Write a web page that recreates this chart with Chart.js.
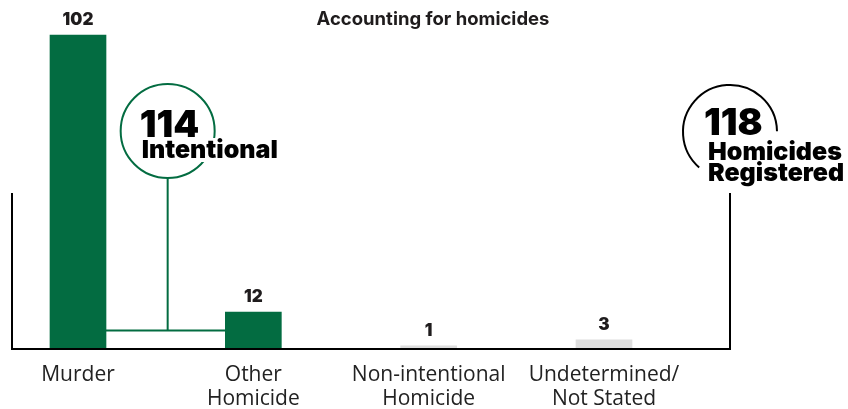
<!DOCTYPE html>
<html>
<head>
<meta charset="utf-8">
<script src="https://cdn.jsdelivr.net/npm/chart.js@4.4.0/dist/chart.umd.min.js"></script>
<style>
  html, body { margin: 0; padding: 0; background: #fff; }
  #wrap { width: 848px; height: 409px; position: relative; }
</style>
</head>
<body>
<div id="wrap"><canvas id="chartHomicides"></canvas></div>
<script>
// — data —
const categories  = [['Murder'], ['Other', 'Homicide'], ['Non-intentional', 'Homicide'], ['Undetermined/', 'Not Stated']];
const counts      = [102, 12, 1, 3];
const intentional = [true, true, false, false];
const titleText   = 'Accounting for homicides';

const intentionalTotal = counts.reduce((s, v, i) => s + (intentional[i] ? v : 0), 0);  // 114
const registeredTotal  = counts.reduce((s, v) => s + v, 0);                             // 118

// — colours / fonts —
const GREEN   = '#036c41';
const GRAY    = '#dedede';
const INK     = '#1f1c1d';
const HEAVY   = 'Inter, "Open Sans", sans-serif';

// — annotations drawn on top of the bars —
const decorPlugin = {
  id: 'decor',
  afterDatasetsDraw(chart) {
    const ctx  = chart.ctx;
    const area = chart.chartArea;
    const bars = chart.getDatasetMeta(0).data;

    ctx.save();

    // title
    ctx.fillStyle = INK;
    ctx.font = `700 18.5px ${HEAVY}`;
    ctx.textAlign = 'center';
    ctx.textBaseline = 'alphabetic';
    ctx.fillText(titleText, 433, 25);

    // value labels
    ctx.font = `900 17px ${HEAVY}`;
    bars.forEach((b, i) => ctx.fillText(String(counts[i]), b.x, b.y - 10));

    // frame round the bars
    const frameL = 12, frameR = 730, frameTop = 193;
    ctx.strokeStyle = '#000';
    ctx.lineWidth = 2;
    ctx.beginPath();
    ctx.moveTo(frameL, frameTop);
    ctx.lineTo(frameL, area.bottom);
    ctx.lineTo(frameR, area.bottom);
    ctx.lineTo(frameR, frameTop);
    ctx.stroke();

    // bracket joining the intentional bars (at half height of the shorter one)
    const b0 = bars[0], b1 = bars[1];
    const x0 = b0.x + b0.width / 2;
    const x1 = b1.x - b1.width / 2;
    const yBr = (b1.y + b1.base) / 2;
    const cx = (x0 + x1) / 2 + 2, cy = 131, r = 47;
    ctx.strokeStyle = GREEN;
    ctx.beginPath();
    ctx.moveTo(x0, yBr);
    ctx.lineTo(x1, yBr);
    ctx.moveTo(cx, cy + r);
    ctx.lineTo(cx, yBr);
    ctx.stroke();
    ctx.beginPath();
    ctx.arc(cx, cy, r, 0, Math.PI * 2);
    ctx.stroke();

    ctx.textAlign = 'left';
    ctx.fillStyle = '#000';
    ctx.font = `900 37px ${HEAVY}`;
    ctx.fillText(String(intentionalTotal), cx - 28, cy + 6);
    ctx.font = `900 25px ${HEAVY}`;
    const w = ctx.measureText('Intentional').width;
    ctx.fillStyle = '#fff';
    ctx.fillRect(cx - 28, cy + 7, w + 6, 24);
    ctx.fillStyle = '#000';
    ctx.fillText('Intentional', cx - 26, cy + 27);

    // circle for the registered total
    const rx = frameR, ry = 132;
    ctx.strokeStyle = '#000';
    ctx.beginPath();
    ctx.arc(rx, ry, r, 131 * Math.PI / 180, 359 * Math.PI / 180);
    ctx.stroke();
    ctx.font = `900 37px ${HEAVY}`;
    ctx.fillText(String(registeredTotal), rx - 26, ry + 3);
    ctx.font = `900 25px ${HEAVY}`;
    ctx.fillText('Homicides', rx - 22, ry + 28);
    ctx.fillText('Registered', rx - 22, ry + 49);

    ctx.restore();
  }
};

const chart = new Chart(document.getElementById('chartHomicides'), {
  type: 'bar',
  data: {
    labels: categories,
    datasets: [{
      data: counts,
      backgroundColor: intentional.map(f => f ? GREEN : GRAY),
      barThickness: 56,
      clip: false
    }]
  },
  options: {
    responsive: true,
    maintainAspectRatio: false,
    animation: false,
    layout: { padding: { top: 35, left: 78, right: 244, bottom: 0 } },
    scales: {
      x: {
        offset: false,
        grid: { display: false },
        border: { display: false },
        ticks: {
          color: '#222',
          padding: 6,
          maxRotation: 0,
          autoSkip: false,
          font: { family: '"Open Sans", sans-serif', size: 21, lineHeight: 1.15 }
        },
        afterFit: s => { s.height = 60; }
      },
      y: {
        display: false,
        min: 0,
        max: 102
      }
    },
    plugins: {
      legend: { display: false },
      tooltip: { enabled: false }
    }
  },
  plugins: [decorPlugin]
});
</script>
</body>
</html>
